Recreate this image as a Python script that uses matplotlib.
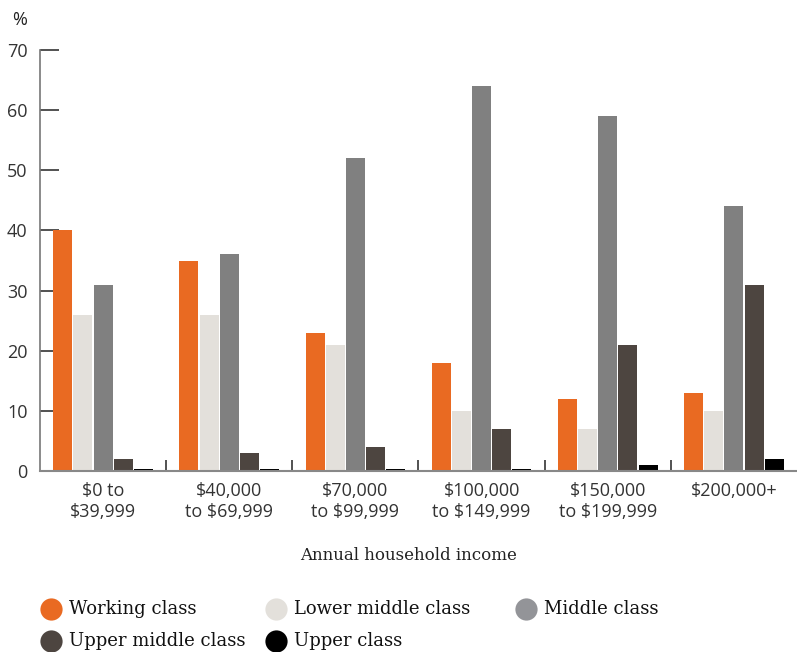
import matplotlib
matplotlib.use("Agg")
import matplotlib.pyplot as plt
from matplotlib.lines import Line2D
import numpy as np

# Income brackets (x categories)
income_labels = ["$0 to\n$39,999", "$40,000\nto $69,999", "$70,000\nto $99,999",
                 "$100,000\nto $149,999", "$150,000\nto $199,999", "$200,000+"]

# Share of each self-identified class within each income bracket (%)
working_class = [40, 35, 23, 18, 12, 13]
lower_middle_class = [26, 26, 21, 10, 7, 10]
middle_class = [31, 36, 52, 64, 59, 44]
upper_middle_class = [2, 3, 4, 7, 21, 31]
upper_class = [0.4, 0.4, 0.4, 0.4, 1, 2]

series_names = ["Working class", "Lower middle class", "Middle class",
                "Upper middle class", "Upper class"]
series_values = [working_class, lower_middle_class, middle_class,
                 upper_middle_class, upper_class]
bar_colors = ["#E96A22", "#E3E0DB", "#808080", "#4D4540", "#000000"]
legend_colors = ["#E96A22", "#E3E0DB", "#939498", "#4D4540", "#000000"]

y_ticks = [0, 10, 20, 30, 40, 50, 60, 70]

tick_font = ["Open Sans", "DejaVu Sans"]
serif_font = ["DejaVu Serif"]

fig = plt.figure(figsize=(7.97, 6.52), dpi=100)
ax = fig.add_axes([40 / 797, 1 - 471 / 652, 757 / 797, 421 / 652])

x = np.arange(len(income_labels))
pitch = 0.16
width = 0.15
for i, (vals, col) in enumerate(zip(series_values, bar_colors)):
    ax.bar(x + (i - 2) * pitch, vals, width=width, color=col, linewidth=0, zorder=2)

ax.set_xlim(-0.5, len(income_labels) - 0.5)
ax.set_ylim(0, 70)

# Spines
for s in ["top", "right"]:
    ax.spines[s].set_visible(False)
ax.spines["left"].set_color("#777777")
ax.spines["bottom"].set_color("#888888")
ax.spines["left"].set_linewidth(1.2)
ax.spines["bottom"].set_linewidth(1.5)
ax.spines["bottom"].set_zorder(3)

# Y axis: ticks pointing inward
ax.set_yticks(y_ticks)
ax.set_yticklabels([str(v) for v in y_ticks], fontfamily=tick_font,
                   fontsize=13, color="#333333")
ax.tick_params(axis="y", direction="in", length=13.5, width=1.2, color="#333333", pad=9)

# X axis: separator ticks between brackets, labels at bracket centres
ax.set_xticks(x[:-1] + 0.5, minor=True)
ax.tick_params(axis="x", which="minor", direction="in", length=8, width=1.2, color="#333333")
ax.set_xticks(x)
ax.set_xticklabels(income_labels, fontfamily=tick_font, fontsize=13,
                   color="#333333", linespacing=1.2)
ax.tick_params(axis="x", which="major", length=0, pad=8)

fig.text(12 / 797, 1 - 20 / 652, "%", fontfamily=tick_font, fontsize=13,
         color="#222222", va="center", ha="left")
fig.text(409 / 797, 1 - 555 / 652, "Annual household income", fontfamily=serif_font,
         fontsize=12, color="#222222", va="center", ha="center")

# Legend laid out in two rows
col_x = [51, 276, 526]
row_y = [609, 641]
for i, (name, col) in enumerate(zip(series_names, legend_colors)):
    r, c = divmod(i, 3)
    px, py = col_x[c], row_y[r]
    fig.add_artist(Line2D([px / 797], [1 - py / 652], marker="o", markersize=16,
                          color=col, markeredgewidth=0, linestyle="none",
                          transform=fig.transFigure))
    fig.text((px + 18) / 797, 1 - py / 652, name, fontfamily=serif_font,
             fontsize=13, color="#111111", va="center", ha="left")

fig.savefig("out.png", dpi=100)
